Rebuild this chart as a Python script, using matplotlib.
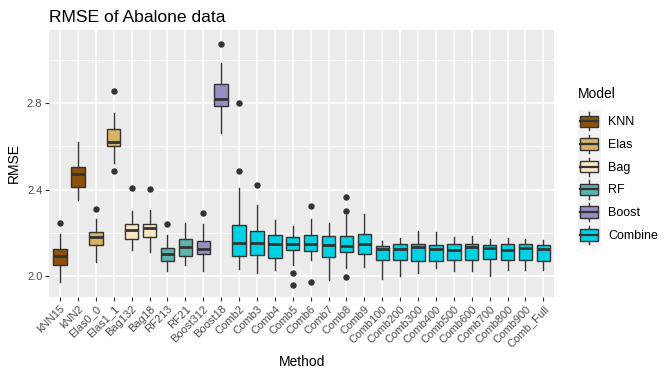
# RMSE of Abalone data: boxplots per method, coloured by model family
import matplotlib.pyplot as plt
from matplotlib.legend_handler import HandlerBase
from matplotlib.patches import Rectangle, Patch
from matplotlib.lines import Line2D

plt.rcParams['font.family'] = ['Liberation Sans', 'DejaVu Sans']

methods = ['kNN15', 'kNN2', 'Elas0_0', 'Elas1_1', 'Bag132', 'Bag18', 'RF213', 'RF21',
           'Boost312', 'Boost18', 'Comb2', 'Comb3', 'Comb4', 'Comb5', 'Comb6', 'Comb7',
           'Comb8', 'Comb9', 'Comb100', 'Comb200', 'Comb300', 'Comb400', 'Comb500',
           'Comb600', 'Comb700', 'Comb800', 'Comb900', 'Comb_Full']
method_model = ['KNN', 'KNN', 'Elas', 'Elas', 'Bag', 'Bag', 'RF', 'RF', 'Boost', 'Boost'] + ['Combine'] * 18

model_names = ['KNN', 'Elas', 'Bag', 'RF', 'Boost', 'Combine']
model_colors = ['#8C510A', '#D8B365', '#F6E8C3', '#5AB4AC', '#998EC3', '#00D2E4']

# box stats
whisk_lo = [1.974, 2.351, 2.065, 2.523, 2.122, 2.115, 2.023, 2.055, 2.025, 2.660,
            2.034, 2.018, 2.028, 2.054, 2.077, 1.986, 2.037, 2.042,
            1.987, 2.000, 2.014, 2.037, 2.023, 2.023, 2.000, 2.028, 2.028, 2.032]
q1 = [2.053, 2.413, 2.145, 2.602, 2.173, 2.182, 2.072, 2.095, 2.103, 2.786,
      2.094, 2.099, 2.085, 2.122, 2.117, 2.088, 2.111, 2.103,
      2.076, 2.076, 2.071, 2.071, 2.076, 2.076, 2.080, 2.076, 2.076, 2.071]
med = [2.095, 2.475, 2.180, 2.623, 2.215, 2.225, 2.106, 2.137, 2.129, 2.817,
       2.154, 2.154, 2.152, 2.152, 2.152, 2.146, 2.142, 2.152,
       2.128, 2.128, 2.138, 2.128, 2.123, 2.134, 2.132, 2.123, 2.132, 2.128]
q3 = [2.126, 2.505, 2.205, 2.680, 2.242, 2.242, 2.131, 2.173, 2.163, 2.888,
      2.237, 2.209, 2.191, 2.182, 2.191, 2.186, 2.186, 2.196,
      2.140, 2.148, 2.148, 2.143, 2.148, 2.148, 2.143, 2.148, 2.148, 2.143]
whisk_hi = [2.196, 2.620, 2.265, 2.754, 2.302, 2.308, 2.191, 2.249, 2.243, 2.985,
            2.409, 2.331, 2.262, 2.234, 2.265, 2.248, 2.283, 2.289,
            2.165, 2.177, 2.211, 2.205, 2.182, 2.186, 2.171, 2.177, 2.172, 2.168]
outliers = [[2.246], [], [2.311], [2.856, 2.486], [2.408], [2.403], [2.242], [], [2.293], [3.072],
            [2.800, 2.486], [2.422], [], [2.016, 1.960], [2.325, 1.974], [], [2.366, 2.302, 1.997], [],
            [], [], [], [], [], [], [], [], [], []]

EDGE = '#333333'


class BoxKeyHandler(HandlerBase):
    # ggplot style legend key: grey square with a little boxplot inside
    def create_artists(self, legend, orig_handle, xdescent, ydescent, width, height, fontsize, trans):
        x0, y0 = -xdescent, -ydescent
        bg = Rectangle((x0, y0), width, height, facecolor='#F2F2F2', edgecolor='none', transform=trans)
        bw, bh = width * 0.78, height * 0.5
        bx, by = x0 + (width - bw) / 2, y0 + (height - bh) / 2
        box = Rectangle((bx, by), bw, bh, facecolor=orig_handle.get_facecolor(),
                        edgecolor=EDGE, lw=1.0, transform=trans)
        cx, cy = x0 + width / 2, y0 + height / 2
        mline = Line2D([bx, bx + bw], [cy, cy], color=EDGE, lw=1.6, transform=trans)
        w1 = Line2D([cx, cx], [y0 + height * 0.1, by], color=EDGE, lw=1.0, transform=trans)
        w2 = Line2D([cx, cx], [by + bh, y0 + height * 0.9], color=EDGE, lw=1.0, transform=trans)
        return [bg, w1, w2, box, mline]


fig = plt.figure(figsize=(6.66, 3.84), dpi=100)
ax = fig.add_axes([0.074, 0.227, 0.758, 0.695])
ax.set_facecolor('#EBEBEB')

stats = []
for i, m in enumerate(methods):
    stats.append({'label': m, 'whislo': whisk_lo[i], 'q1': q1[i], 'med': med[i],
                  'q3': q3[i], 'whishi': whisk_hi[i], 'fliers': outliers[i]})

positions = list(range(len(methods)))
bp = ax.bxp(stats, positions=positions, widths=0.75, showcaps=False, patch_artist=True,
            boxprops=dict(edgecolor=EDGE, lw=1.0),
            medianprops=dict(color=EDGE, lw=2.0),
            whiskerprops=dict(color=EDGE, lw=1.0),
            flierprops=dict(marker='o', markerfacecolor=EDGE, markeredgecolor=EDGE, markersize=3.6),
            zorder=3)
for patch, mdl in zip(bp['boxes'], method_model):
    patch.set_facecolor(model_colors[model_names.index(mdl)])

ax.set_xlim(-0.6, 27.6)
ax.set_ylim(1.906, 3.138)
ax.set_yticks([2.0, 2.4, 2.8])
ax.set_yticklabels(['2.0', '2.4', '2.8'])
ax.set_yticks([2.2, 2.6, 3.0], minor=True)
ax.set_xticks(positions)
ax.set_xticklabels(methods, rotation=45, ha='right', va='top', rotation_mode='anchor')

ax.grid(True, which='major', color='white', lw=1.1, zorder=0)
ax.grid(True, which='minor', axis='y', color='white', lw=0.55, zorder=0)
ax.set_axisbelow(True)
for s in ax.spines.values():
    s.set_visible(False)
ax.tick_params(axis='both', which='major', colors=EDGE, length=3, width=0.8, labelsize=8,
               labelcolor='#4D4D4D', pad=2)
ax.tick_params(axis='y', which='minor', length=0)

ax.set_xlabel('Method', fontsize=10, labelpad=4)
ax.set_ylabel('RMSE', fontsize=10, labelpad=4)
ax.set_title('RMSE of Abalone data', loc='left', fontsize=12.6, pad=6)

handles = [Patch(facecolor=c, edgecolor=EDGE) for c in model_colors]
leg = fig.legend(handles, model_names, loc='upper left', bbox_to_anchor=(0.858, 0.79),
                 title='Model', title_fontsize=10, fontsize=9, frameon=False,
                 handler_map={Patch: BoxKeyHandler()},
                 handlelength=1.85, handleheight=2.42, labelspacing=0.0, handletextpad=0.6,
                 borderpad=0.0, alignment='left')
leg._legend_box.sep = 6.5  # gap between legend title and keys

fig.savefig('out.png', dpi=100)
